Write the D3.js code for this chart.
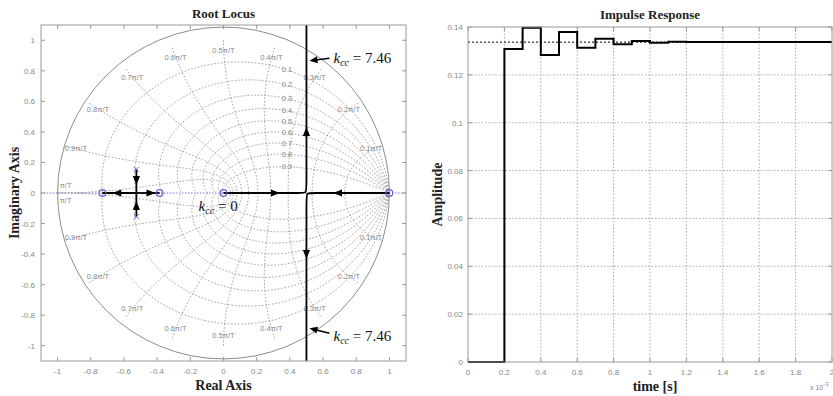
<!DOCTYPE html>
<html><head><meta charset="utf-8">
<script src="https://cdn.jsdelivr.net/npm/d3@7"></script>
<style>body{margin:0;background:#fff}</style>
</head><body><svg id="c" width="833" height="396" xmlns="http://www.w3.org/2000/svg"></svg>
<script>
// ---------- data: root locus ----------
const rlTicks = [-1, -0.8, -0.6, -0.4, -0.2, 0, 0.2, 0.4, 0.6, 0.8, 1];
const zetaValues = [0.1, 0.2, 0.3, 0.4, 0.5, 0.6, 0.7, 0.8, 0.9];
const wnValues = [0.1, 0.2, 0.3, 0.4, 0.5, 0.6, 0.7, 0.8, 0.9, 1.0];
const wnLabels = ["0.1π/T","0.2π/T","0.3π/T","0.4π/T","0.5π/T","0.6π/T","0.7π/T","0.8π/T","0.9π/T","π/T"];
const rlZeros = [[-0.73, 0], [-0.385, 0], [0, 0], [1, 0]];
const rlPoles = [[-0.525, 0.155], [-0.525, -0.155]];
const locusBranches = [
  [[-0.525, 0.155], [-0.525, 0]],
  [[-0.525, -0.155], [-0.525, 0]],
  [[-0.525, 0], [-0.73, 0]],
  [[-0.525, 0], [-0.385, 0]],
  [[0, 0], [0.3, 0], [0.465, 0], [0.5, 0], [0.5, 0.035], [0.5, 0.4], [0.5, 1.1]],
  [[1, 0], [0.7, 0], [0.535, 0], [0.5, 0], [0.5, -0.035], [0.5, -0.4], [0.5, -1.1]]
];
const locusArrows = [
  [-0.64, 0, 180], [-0.44, 0, 0], [-0.525, 0.085, 90], [-0.525, -0.085, -90],
  [0.31, 0, 0], [0.69, 0, 180], [0.5, 0.40, -90], [0.5, -0.40, 90]
];
const gainLabels = [
  {x: 0.5, y: 0.866, value: "7.46"},
  {x: 0.5, y: -0.866, value: "7.46"}
];
const gainZero = {x: -0.15, y: -0.118, value: "0"};

// ---------- data: impulse response ----------
const irTime = [0, 0.1, 0.2, 0.3, 0.4, 0.5, 0.6, 0.7, 0.8, 0.9, 1.0, 1.1, 1.2, 1.3, 1.4, 1.5, 1.6, 1.7, 1.8, 1.9, 2.0];
const irAmp  = [0, 0, 0.1308, 0.1397, 0.1283, 0.1379, 0.1313, 0.1351, 0.1328, 0.1341, 0.1334, 0.1338, 0.1337, 0.1337, 0.1337, 0.1337, 0.1337, 0.1337, 0.1337, 0.1337, 0.1337];
const irFinal = 0.1337;
const irTicksX = [0, 0.2, 0.4, 0.6, 0.8, 1, 1.2, 1.4, 1.6, 1.8, 2];
const irTicksY = [0, 0.02, 0.04, 0.06, 0.08, 0.1, 0.12, 0.14];

// ---------- drawing ----------
const svg = d3.select("#c");
svg.append("rect").attr("width", 833).attr("height", 396).attr("fill", "#fff");
const gray = "#8a8a8a", txtGray = "#888", serif = "'Liberation Serif', 'Times New Roman', serif", sans = "'Liberation Sans', Arial, sans-serif";
const fmt = d => String(+d.toFixed(4));

// ===== Root locus =====
const L = {l: 41, r: 406, t: 25, b: 361};
const x1 = d3.scaleLinear().domain([-1.1, 1.1]).range([L.l, L.r]);
const y1 = d3.scaleLinear().domain([-1.1, 1.1]).range([L.b, L.t]);
const line1 = d3.line().x(d => x1(d[0])).y(d => y1(d[1]));

svg.append("defs").append("clipPath").attr("id", "clipL")
  .append("rect").attr("x", L.l).attr("y", L.t).attr("width", L.r - L.l).attr("height", L.b - L.t);
const gL = svg.append("g").attr("clip-path", "url(#clipL)");

// real axis (dotted blue)
gL.append("path").attr("d", line1([[-1.1, 0], [1.1, 0]]))
  .attr("stroke", "#7a7ad8").attr("stroke-width", 1).attr("stroke-dasharray", "1.5,1.5").attr("fill", "none");

// zeta curves
zetaValues.forEach(z => {
  const k = z / Math.sqrt(1 - z * z);
  [1, -1].forEach(sgn => {
    const pts = d3.range(0, 201).map(i => {
      const th = Math.PI * i / 200, r = Math.exp(-k * th);
      return [r * Math.cos(th), sgn * r * Math.sin(th)];
    });
    gL.append("path").attr("d", line1(pts)).attr("fill", "none")
      .attr("stroke", gray).attr("stroke-width", 0.8).attr("stroke-dasharray", "1.6,1.8");
  });
});
// wn curves
wnValues.forEach(w => {
  const W = w * Math.PI;
  [1, -1].forEach(sgn => {
    const pts = d3.range(0, 101).map(i => {
      const z = i / 100, r = Math.exp(-z * W), th = W * Math.sqrt(1 - z * z);
      return [r * Math.cos(th), sgn * r * Math.sin(th)];
    });
    gL.append("path").attr("d", line1(pts)).attr("fill", "none")
      .attr("stroke", gray).attr("stroke-width", 0.8).attr("stroke-dasharray", "1.6,1.8");
  });
});
// unit circle
gL.append("circle").attr("cx", x1(0)).attr("cy", y1(0)).attr("r", x1(1) - x1(0))
  .attr("fill", "none").attr("stroke", "#8c8c8c").attr("stroke-width", 1);

// zeta labels (at the point of each curve where Re(z)=0.37)
zetaValues.forEach(z => {
  const k = z / Math.sqrt(1 - z * z);
  let lo = 0, hi = Math.PI / 2;
  for (let i = 0; i < 40; i++) { const m = (lo + hi) / 2; (Math.exp(-k * m) * Math.cos(m) > 0.37) ? lo = m : hi = m; }
  const r = Math.exp(-k * lo);
  gL.append("text").attr("x", x1(r * Math.cos(lo)) + 2).attr("y", y1(r * Math.sin(lo)) + 2.5)
    .attr("text-anchor", "middle").attr("font-family", sans).attr("font-size", 7.5).attr("fill", txtGray)
    .text(fmt(z));
});
// wn labels
wnValues.forEach((w, i) => {
  const th = Math.min(w * Math.PI, Math.PI - 0.05), r = 0.935;
  [1, -1].forEach(sgn => {
    gL.append("text").attr("x", x1(r * Math.cos(th)) - (w === 1 ? 3 : 0)).attr("y", y1(sgn * r * Math.sin(th)) + 2.5)
      .attr("text-anchor", "middle").attr("font-family", sans).attr("font-size", 7.5).attr("fill", txtGray)
      .text(wnLabels[i]);
  });
});

// locus branches
locusBranches.forEach(b => {
  gL.append("path").attr("d", d3.line().x(d => x1(d[0])).y(d => y1(d[1])).curve(d3.curveBasis)(b))
    .attr("fill", "none").attr("stroke", "#000").attr("stroke-width", 1.8);
});
// arrows
locusArrows.forEach(([ax, ay, ang]) => {
  gL.append("path").attr("d", "M5,0 L-4,-3.6 L-4,3.6 Z").attr("fill", "#000")
    .attr("transform", `translate(${x1(ax)},${y1(ay)}) rotate(${ang})`);
});
// zeros / poles
rlZeros.forEach(([zx, zy]) => {
  gL.append("circle").attr("cx", x1(zx)).attr("cy", y1(zy)).attr("r", 3.3)
    .attr("fill", "none").attr("stroke", "#6464d0").attr("stroke-width", 1.2);
});
rlPoles.forEach(([px, py]) => {
  const cx = x1(px), cy = y1(py);
  gL.append("path").attr("d", `M${cx-2.5},${cy-2.5}L${cx+2.5},${cy+2.5}M${cx-2.5},${cy+2.5}L${cx+2.5},${cy-2.5}`)
    .attr("stroke", "#6464d0").attr("stroke-width", 1);
});

// frame + ticks
svg.append("rect").attr("x", L.l).attr("y", L.t).attr("width", L.r - L.l).attr("height", L.b - L.t)
  .attr("fill", "none").attr("stroke", "#999").attr("stroke-width", 1);
rlTicks.forEach(t => {
  const X = x1(t), Y = y1(t);
  svg.append("path").attr("d", `M${X},${L.b}v-4M${X},${L.t}v4M${L.l},${Y}h4M${L.r},${Y}h-4`)
    .attr("stroke", "#999").attr("stroke-width", 1);
  svg.append("text").attr("x", X).attr("y", L.b + 13).attr("text-anchor", "middle")
    .attr("font-family", sans).attr("font-size", 8).attr("fill", txtGray).text(fmt(t));
  svg.append("text").attr("x", L.l - 6).attr("y", Y + 3).attr("text-anchor", "end")
    .attr("font-family", sans).attr("font-size", 8).attr("fill", txtGray).text(fmt(t));
});

// gain labels
function kText(x, y, val) {
  const t = svg.append("text").attr("x", x).attr("y", y).attr("font-family", serif).attr("font-size", 15).attr("fill", "#111");
  t.append("tspan").attr("font-style", "italic").text("k");
  t.append("tspan").attr("font-style", "italic").attr("font-size", 10).attr("dy", 3).text("cc");
  t.append("tspan").attr("dy", -3).text(" = " + val);
}
gainLabels.forEach(g => {
  const tipX = x1(g.x) + 3, tipY = y1(g.y) + (g.y > 0 ? 0 : 3);
  const tailX = tipX + 20, tailY = tipY + (g.y > 0 ? -2.5 : 5);
  const a = Math.atan2(tipY - tailY, tipX - tailX);
  svg.append("line").attr("x1", tailX).attr("y1", tailY).attr("x2", tipX - 6 * Math.cos(a)).attr("y2", tipY - 6 * Math.sin(a))
    .attr("stroke", "#000").attr("stroke-width", 1.5);
  svg.append("path").attr("d", "M0,0 L-8,-3.5 L-8,3.5 Z").attr("fill", "#000")
    .attr("transform", `translate(${tipX},${tipY}) rotate(${a * 180 / Math.PI})`);
  kText(tailX + 4, tailY + 5 + (g.y > 0 ? 0 : 3), g.value);
});
kText(x1(gainZero.x), y1(gainZero.y), gainZero.value);

// titles
svg.append("text").attr("x", (L.l + L.r) / 2).attr("y", 18).attr("text-anchor", "middle")
  .attr("font-family", serif).attr("font-weight", "bold").attr("font-size", 13).attr("fill", "#222").text("Root Locus");
svg.append("text").attr("x", (L.l + L.r) / 2).attr("y", 390).attr("text-anchor", "middle")
  .attr("font-family", serif).attr("font-weight", "bold").attr("font-size", 14).attr("fill", "#222").text("Real Axis");
svg.append("text").attr("transform", `translate(19,${(L.t + L.b) / 2}) rotate(-90)`).attr("text-anchor", "middle")
  .attr("font-family", serif).attr("font-weight", "bold").attr("font-size", 14).attr("fill", "#222").text("Imaginary Axis");

// ===== Impulse response =====
const R = {l: 468, r: 832, t: 27, b: 362};
const x2 = d3.scaleLinear().domain([0, 2]).range([R.l, R.r]);
const y2 = d3.scaleLinear().domain([0, 0.14]).range([R.b, R.t]);
const gR = svg.append("g");
irTicksX.forEach(t => {
  const X = x2(t);
  if (t > 0 && t < 2) gR.append("line").attr("x1", X).attr("x2", X).attr("y1", R.t).attr("y2", R.b)
    .attr("stroke", "#999").attr("stroke-width", 0.8).attr("stroke-dasharray", "1.6,1.8");
  gR.append("path").attr("d", `M${X},${R.b}v-4M${X},${R.t}v4`).attr("stroke", "#999");
  gR.append("text").attr("x", X).attr("y", R.b + 13).attr("text-anchor", "middle")
    .attr("font-family", sans).attr("font-size", 8).attr("fill", txtGray).text(fmt(t));
});
irTicksY.forEach(t => {
  const Y = y2(t);
  if (t > 0 && t < 0.14) gR.append("line").attr("x1", R.l).attr("x2", R.r).attr("y1", Y).attr("y2", Y)
    .attr("stroke", "#999").attr("stroke-width", 0.8).attr("stroke-dasharray", "1.6,1.8");
  gR.append("path").attr("d", `M${R.l},${Y}h4M${R.r},${Y}h-4`).attr("stroke", "#999");
  gR.append("text").attr("x", R.l - 5).attr("y", Y + 3).attr("text-anchor", "end")
    .attr("font-family", sans).attr("font-size", 8).attr("fill", txtGray).text(fmt(t));
});
gR.append("line").attr("x1", R.l).attr("x2", R.r).attr("y1", y2(irFinal)).attr("y2", y2(irFinal))
  .attr("stroke", "#333").attr("stroke-width", 1.1).attr("stroke-dasharray", "2,2");
gR.append("path").datum(irTime.map((t, i) => [t, irAmp[i]]))
  .attr("d", d3.line().x(d => x2(d[0])).y(d => y2(d[1])).curve(d3.curveStepAfter))
  .attr("fill", "none").attr("stroke", "#000").attr("stroke-width", 2);
gR.append("rect").attr("x", R.l).attr("y", R.t).attr("width", R.r - R.l).attr("height", R.b - R.t)
  .attr("fill", "none").attr("stroke", "#999").attr("stroke-width", 1);

svg.append("text").attr("x", (R.l + R.r) / 2).attr("y", 19).attr("text-anchor", "middle")
  .attr("font-family", serif).attr("font-weight", "bold").attr("font-size", 13).attr("fill", "#222").text("Impulse Response");
svg.append("text").attr("x", 655).attr("y", 391).attr("text-anchor", "middle")
  .attr("font-family", serif).attr("font-weight", "bold").attr("font-size", 14).attr("fill", "#222").text("time [s]");
svg.append("text").attr("transform", `translate(442,${(R.t + R.b) / 2}) rotate(-90)`).attr("text-anchor", "middle")
  .attr("font-family", serif).attr("font-weight", "bold").attr("font-size", 14).attr("fill", "#222").text("Amplitude");
const mult = svg.append("text").attr("x", 810).attr("y", 390).attr("font-family", sans).attr("font-size", 7).attr("fill", txtGray);
mult.append("tspan").text("x 10");
mult.append("tspan").attr("dy", -4).attr("font-size", 6).text("-3");
</script></body></html>
